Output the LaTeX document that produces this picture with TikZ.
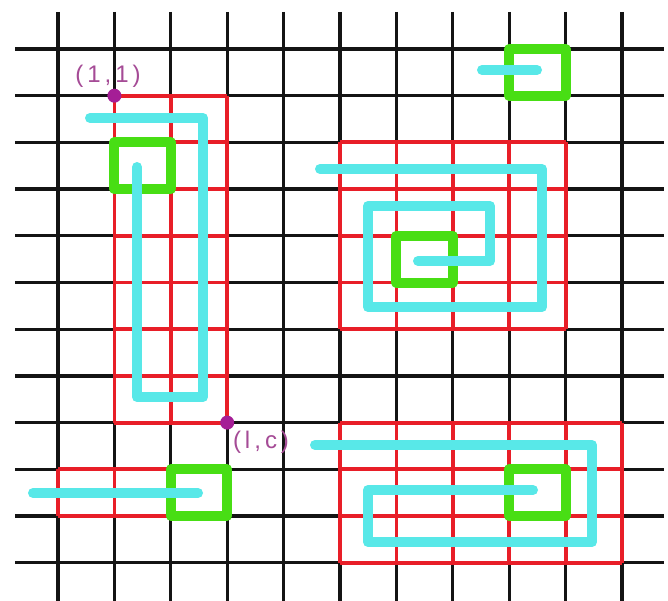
\documentclass[tikz,border=0pt]{standalone}
\usepackage{fontspec}
\newfontfamily\labelfont{Liberation Sans}
\definecolor{gridblack}{RGB}{20,20,20}
\definecolor{regionred}{RGB}{232,30,40}
\definecolor{pathcyan}{RGB}{88,232,232}
\definecolor{boxgreen}{RGB}{72,222,20}
\definecolor{dotpurple}{RGB}{165,30,150}
\definecolor{textpurple}{RGB}{165,75,150}
\newcommand{\gxx}[1]{58+56.4*#1}
\newcommand{\gyy}[1]{49+46.7*#1}
\newcommand{\redgrid}[4]{%
  \foreach \i in {#1,...,#2} \draw[redline] ({\gxx{\i}},{\gyy{#3}}) -- ({\gxx{\i}},{\gyy{#4}});
  \foreach \j in {#3,...,#4} \draw[redline] ({\gxx{#1}},{\gyy{\j}}) -- ({\gxx{#2}},{\gyy{\j}});
}
\newcommand{\greencell}[2]{%
  \draw[greenbox] ({\gxx{#1}},{\gyy{#2}}) rectangle ({\gxx{(#1+1)}},{\gyy{(#2+1)}});
}
\tikzset{
  gridline/.style={draw=gridblack, line width=3.2pt},
  redline/.style={draw=regionred, line width=3.8pt},
  greenbox/.style={draw=boxgreen, line width=10pt, line join=round},
  cyanpath/.style={draw=pathcyan, line width=10pt, line cap=round, line join=round},
  cornerdot/.style={circle, fill=dotpurple, inner sep=0pt, minimum size=14pt},
  coordlabel/.style={text=textpurple, font=\labelfont\fontsize{24}{24}\selectfont, inner sep=0pt}
}
\begin{document}
\begin{tikzpicture}[x=1pt,y=-1pt]
\useasboundingbox (0,0) rectangle (668,601);
\fill[white] (0,0) rectangle (668,601);
% black grid
\foreach \i in {0,...,10} \draw[gridline] ({\gxx{\i}},12) -- ({\gxx{\i}},601);
\foreach \j in {0,...,11} \draw[gridline] (15,{\gyy{\j}}) -- (664,{\gyy{\j}});
% red regions
\redgrid{1}{3}{1}{8}
\redgrid{0}{3}{9}{10}
\redgrid{5}{9}{2}{6}
\redgrid{5}{10}{8}{11}
% green cells
\greencell{1}{2}
\greencell{8}{0}
\greencell{6}{4}
\greencell{2}{9}
\greencell{8}{9}
% cyan paths
\draw[cyanpath] (90,118) -- (203,118) -- (203,397) -- (137,397) -- (137,167);
\draw[cyanpath] (482,70) -- (537,70);
\draw[cyanpath] (320,169) -- (542,169) -- (542,307) -- (368,307) -- (368,206) -- (490,206) -- (490,261) -- (418,261);
\draw[cyanpath] (33,493) -- (198,493);
\draw[cyanpath] (315,445) -- (592,445) -- (592,542) -- (368,542) -- (368,490) -- (533,490);
% corner points
\node[cornerdot] (tl) at ({\gxx{1}},{\gyy{1}}) {};
\node[cornerdot] (br) at ({\gxx{3}},{\gyy{8}}) {};
\node[coordlabel] (tllabel) at (108,76) {(\kern4pt1\kern4pt,\kern4pt1\kern4pt)};
\node[coordlabel] (brlabel) at (261,442) {(\kern4pt l\kern4pt,\kern4pt c\kern4pt)};
\end{tikzpicture}
\end{document}
